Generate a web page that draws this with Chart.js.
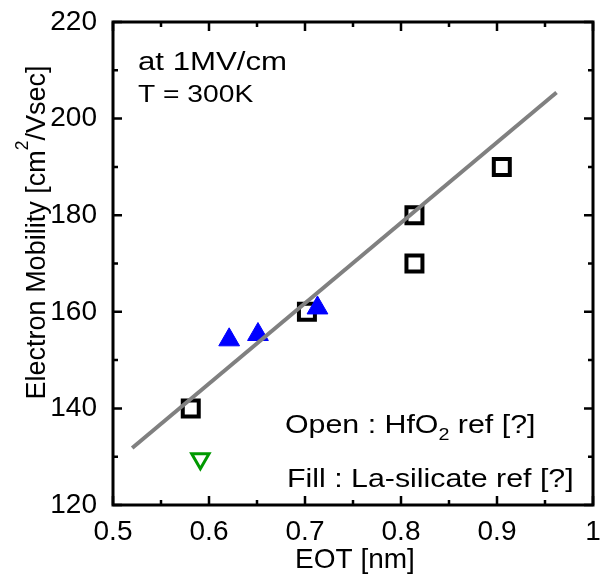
<!DOCTYPE html>
<html>
<head>
<meta charset="utf-8">
<script src="https://cdn.jsdelivr.net/npm/chart.js@4.4.1/dist/chart.umd.min.js"></script>
<style>
  body { margin: 0; background: #fff; overflow: hidden; }
  canvas { display: block; }
</style>
</head>
<body>
<canvas id="mobilityChart" width="600" height="581"></canvas>
<script>
const FONT = '"Liberation Sans", Arial, sans-serif';

// HfO2 reference (open squares)
const hfo2Eot = [0.581, 0.702, 0.814, 0.814, 0.905];
const hfo2Mobility = [140, 160, 180, 170, 190];
// La-silicate reference (filled triangles)
const laSilicateEot = [0.621, 0.651, 0.713];
const laSilicateMobility = [154.2, 155.3, 160.8];
// open green down-triangle
const otherEot = [0.591];
const otherMobility = [129.6];
// gray trend line
const fitEot = [0.52, 0.962];
const fitMobility = [131.8, 205.4];

const xTicks = [0.5, 0.6, 0.7, 0.8, 0.9, 1.0];
const yTicks = [120, 140, 160, 180, 200, 220];

// right edge of the plot box in the reference
const PLOT_RIGHT = 593;

function toPoints(xs, ys) {
    return xs.map((x, i) => ({ x: x, y: ys[i] }));
}

function xLabel(v) {
    return Math.abs(v - 1) < 1e-9 ? '1' : Number(v).toFixed(1);
}

// draws text made of parts: [text, shift] with shift 1 = superscript, -1 = subscript
function drawRich(ctx, parts, x, y, size, opts) {
    opts = opts || {};
    ctx.save();
    ctx.translate(x, y);
    if (opts.rotate) ctx.rotate(opts.rotate);
    ctx.scale(opts.stretch || 1, 1);
    ctx.fillStyle = '#000';
    ctx.textBaseline = 'alphabetic';
    ctx.textAlign = 'left';
    let total = 0;
    parts.forEach(([t, s]) => {
        ctx.font = (s ? size * 0.65 : size) + 'px ' + FONT;
        total += ctx.measureText(t).width;
    });
    let cx = opts.center ? -total / 2 : 0;
    parts.forEach(([t, s]) => {
        const fs = s ? size * 0.65 : size;
        ctx.font = fs + 'px ' + FONT;
        const dy = s === 1 ? -size * 0.62 : (s === -1 ? size * 0.27 : 0);
        ctx.fillText(t, cx, dy);
        cx += ctx.measureText(t).width;
    });
    ctx.restore();
}

const frame = {
    id: 'frame',
    // Chart.js keeps some room for the last x label, so stretch the x scale to the box edge
    afterLayout(chart) {
        const a = chart.chartArea;
        const x = chart.scales.x;
        if (Math.abs(a.right - PLOT_RIGHT) > 0.5) {
            a.right = PLOT_RIGHT;
            a.width = a.right - a.left;
            x.right = PLOT_RIGHT;
            x.width = x.right - x.left;
            x.configure();
        }
    },
    afterDatasetsDraw(chart) {
        const { ctx, chartArea: a, scales: { x, y } } = chart;
        ctx.save();
        ctx.strokeStyle = '#000';
        ctx.lineWidth = 3;
        ctx.strokeRect(a.left, a.top, a.right - a.left, a.bottom - a.top);

        ctx.lineWidth = 2.5;
        ctx.beginPath();
        for (let i = 0; i <= 10; i++) {
            const px = x.getPixelForValue(0.5 + i * 0.05);
            const len = i % 2 === 0 ? 9 : 5;
            ctx.moveTo(px, a.bottom); ctx.lineTo(px, a.bottom - len);
            ctx.moveTo(px, a.top); ctx.lineTo(px, a.top + len);
        }
        for (let i = 0; i <= 10; i++) {
            const py = y.getPixelForValue(120 + i * 10);
            const len = i % 2 === 0 ? 9 : 5;
            ctx.moveTo(a.left, py); ctx.lineTo(a.left + len, py);
            ctx.moveTo(a.right, py); ctx.lineTo(a.right - len, py);
        }
        ctx.stroke();

        // x tick labels, placed on the stretched scale
        ctx.fillStyle = '#000';
        ctx.font = '28px ' + FONT;
        ctx.textAlign = 'center';
        ctx.textBaseline = 'alphabetic';
        xTicks.forEach(v => {
            ctx.fillText(xLabel(v), x.getPixelForValue(v), 540);
        });

        drawRich(ctx, [['at 1MV/cm', 0]], 138, 70, 26, { stretch: 1.2 });
        drawRich(ctx, [['T = 300K', 0]], 138, 101.5, 23.5, { stretch: 1.2 });
        drawRich(ctx, [['Open : HfO', 0], ['2', -1], [' ref [?]', 0]], 285, 433, 25.5, { stretch: 1.19 });
        drawRich(ctx, [['Fill : La-silicate ref [?]', 0]], 287, 486.5, 25.5, { stretch: 1.19 });

        drawRich(ctx, [['EOT [nm]', 0]], 355, 568, 28, { center: true });
        drawRich(ctx, [['Electron Mobility [cm', 0], ['2', 1], ['/Vsec]', 0]], 45, 232.5, 27,
            { rotate: -Math.PI / 2, center: true });
        ctx.restore();
    }
};

new Chart(document.getElementById('mobilityChart'), {
    type: 'scatter',
    data: {
        datasets: [
            {
                label: 'other',
                data: toPoints(otherEot, otherMobility),
                pointStyle: 'triangle',
                rotation: 180,
                pointRadius: 10,
                borderWidth: 3,
                borderColor: '#009900',
                backgroundColor: 'rgba(0,0,0,0)',
                order: 1
            },
            {
                label: 'fit',
                data: toPoints(fitEot, fitMobility),
                showLine: true,
                pointRadius: 0,
                borderWidth: 4,
                borderColor: '#808080',
                order: 2
            },
            {
                label: 'La-silicate',
                data: toPoints(laSilicateEot, laSilicateMobility),
                pointStyle: 'triangle',
                pointRadius: 12,
                borderWidth: 1,
                borderColor: '#0000ff',
                backgroundColor: '#0000ff',
                order: 3
            },
            {
                label: 'HfO2',
                data: toPoints(hfo2Eot, hfo2Mobility),
                pointStyle: 'rect',
                pointRadius: 11.3,
                borderWidth: 4,
                borderColor: '#000',
                backgroundColor: 'rgba(0,0,0,0)',
                order: 4
            }
        ]
    },
    options: {
        responsive: false,
        animation: false,
        layout: { padding: { top: 22, right: 7, left: 0, bottom: 0 } },
        plugins: {
            legend: { display: false },
            tooltip: { enabled: false }
        },
        scales: {
            x: {
                type: 'linear',
                min: 0.5,
                max: 1.0,
                grid: { display: false },
                border: { display: false },
                afterBuildTicks: (s) => { s.ticks = xTicks.map(v => ({ value: v })); },
                afterFit: (s) => { s.height = 76; s.paddingLeft = 0; s.paddingRight = 0; },
                ticks: { display: false }
            },
            y: {
                type: 'linear',
                min: 120,
                max: 220,
                grid: { display: false },
                border: { display: false },
                afterBuildTicks: (s) => { s.ticks = yTicks.map(v => ({ value: v })); },
                afterFit: (s) => { s.width = 113; s.paddingTop = 0; s.paddingBottom = 0; },
                ticks: {
                    color: '#000',
                    font: { size: 28, family: FONT },
                    padding: 8,
                    autoSkip: false
                }
            }
        }
    },
    plugins: [frame]
});
</script>
</body>
</html>
